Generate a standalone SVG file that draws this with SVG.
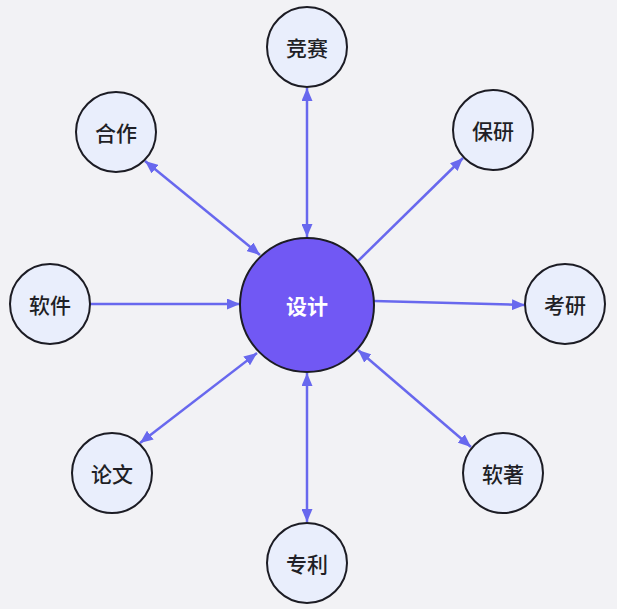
<svg xmlns="http://www.w3.org/2000/svg" width="617" height="609" viewBox="0 0 617 609">
<style>
.node{fill:#e9eefc;stroke:#1c1c24;stroke-width:2}
.hub{fill:#7158f4;stroke:#1c1c24;stroke-width:2}
.lbl{font-family:"Noto Sans CJK SC","Noto Sans",sans-serif;font-size:21px;font-weight:500;fill:#1f1f26;text-anchor:middle;dominant-baseline:central}
.hublbl{font-family:"Noto Sans CJK SC","Noto Sans",sans-serif;font-size:21px;font-weight:700;fill:#ffffff;text-anchor:middle;dominant-baseline:central}
.edge{stroke:#6868ee;stroke-width:2.5;fill:none}
</style>
<defs>
<marker id="ah" viewBox="0 0 13 11" refX="13" refY="5.5" markerWidth="13" markerHeight="11" markerUnits="userSpaceOnUse" orient="auto-start-reverse">
<path d="M0,0 L13,5.5 L0,11 Z" fill="#6868ee"/>
</marker>
</defs>
<rect width="617" height="609" fill="#f2f2f5"/>
<g id="connectors">
<line class="edge" x1="307" y1="88" x2="307" y2="237" marker-start="url(#ah)" marker-end="url(#ah)"/>
<line class="edge" x1="145" y1="161" x2="260" y2="255" marker-start="url(#ah)" marker-end="url(#ah)"/>
<line class="edge" x1="357" y1="262" x2="463" y2="158" marker-end="url(#ah)"/>
<line class="edge" x1="90" y1="304" x2="240" y2="304" marker-end="url(#ah)"/>
<line class="edge" x1="374" y1="301" x2="525" y2="305" marker-end="url(#ah)"/>
<line class="edge" x1="140" y1="443" x2="257" y2="353" marker-start="url(#ah)" marker-end="url(#ah)"/>
<line class="edge" x1="358" y1="350" x2="471" y2="447" marker-start="url(#ah)" marker-end="url(#ah)"/>
<line class="edge" x1="307" y1="373" x2="307" y2="522" marker-start="url(#ah)" marker-end="url(#ah)"/>
</g>
<g id="n-center"><circle class="hub" cx="307" cy="305" r="67"/><text class="hublbl" x="307" y="305">设计</text></g>
<g id="n-jingsai"><circle class="node" cx="307" cy="47" r="40"/><text class="lbl" x="307" y="47">竞赛</text></g>
<g id="n-hezuo"><circle class="node" cx="116" cy="132" r="40"/><text class="lbl" x="116" y="132">合作</text></g>
<g id="n-baoyan"><circle class="node" cx="493" cy="130" r="40"/><text class="lbl" x="493" y="130">保研</text></g>
<g id="n-ruanjian"><circle class="node" cx="50" cy="304" r="40"/><text class="lbl" x="50" y="304">软件</text></g>
<g id="n-kaoyan"><circle class="node" cx="565" cy="304" r="40"/><text class="lbl" x="565" y="304">考研</text></g>
<g id="n-lunwen"><circle class="node" cx="112" cy="473" r="40"/><text class="lbl" x="112" y="473">论文</text></g>
<g id="n-ruanzhu"><circle class="node" cx="503" cy="473" r="40"/><text class="lbl" x="503" y="473">软著</text></g>
<g id="n-zhuanli"><circle class="node" cx="307" cy="563" r="40"/><text class="lbl" x="307" y="563">专利</text></g>
</svg>
